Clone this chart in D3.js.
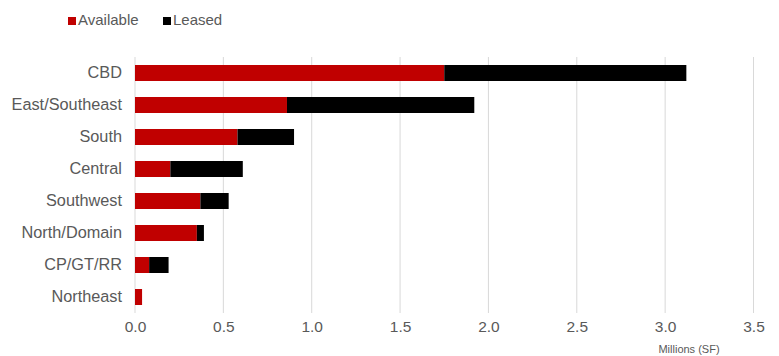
<!DOCTYPE html>
<html>
<head>
<meta charset="utf-8">
<script src="https://cdn.jsdelivr.net/npm/d3@7"></script>
<style>
  body { margin: 0; background: #fff; }
  text { font-family: "Liberation Sans", Arial, sans-serif; fill: #595959; }
</style>
</head>
<body>
<div id="chart"></div>
<script>
var categories = ["CBD", "East/Southeast", "South", "Central", "Southwest", "North/Domain", "CP/GT/RR", "Northeast"];
var available = [1.75, 0.86, 0.58, 0.20, 0.37, 0.35, 0.08, 0.04];
var leased = [1.37, 1.06, 0.32, 0.41, 0.16, 0.04, 0.11, 0.0];
var xTicks = [0, 0.5, 1.0, 1.5, 2.0, 2.5, 3.0, 3.5];
var seriesNames = ["Available", "Leased"];
var colors = ["#c00000", "#000000"];

var width = 779, height = 356;
var margin = { top: 57, right: 26, bottom: 43, left: 135 };

var svg = d3.select("#chart").append("svg")
    .attr("width", width)
    .attr("height", height);

var x = d3.scaleLinear()
    .domain([0, 3.5])
    .range([margin.left, width - margin.right + 0.5]);

var y = d3.scaleBand()
    .domain(categories)
    .range([margin.top, height - margin.bottom])
    .paddingInner(0.5)
    .paddingOuter(0.25);

// gridlines
svg.append("g")
    .selectAll("line")
    .data(xTicks)
    .enter()
    .append("line")
    .attr("x1", function (d) { return x(d) })
    .attr("x2", function (d) { return x(d) })
    .attr("y1", margin.top)
    .attr("y2", height - margin.bottom)
    .attr("stroke", "#d9d9d9")
    .attr("stroke-width", 1);

// stacked bars
var rows = categories.map(function (c, i) {
    return { cat: c, Available: available[i], Leased: leased[i] };
});
var stacked = d3.stack().keys(seriesNames)(rows);

svg.append("g")
    .selectAll("g")
    .data(stacked)
    .enter()
    .append("g")
    .attr("fill", function (d, i) { return colors[i] })
    .selectAll("rect")
    .data(function (d) { return d })
    .enter()
    .append("rect")
    .attr("x", function (d) { return x(d[0]) })
    .attr("y", function (d) { return y(d.data.cat) })
    .attr("width", function (d) { return x(d[1]) - x(d[0]) })
    .attr("height", y.bandwidth());

// category labels
var yAxis = svg.append("g")
    .attr("transform", "translate(" + margin.left + ",0)")
    .call(d3.axisLeft(y).tickSize(0).tickPadding(13));
yAxis.select(".domain").remove();
yAxis.selectAll("text")
    .attr("fill", "#595959")
    .style("font-size", "16.3px")
    .style("font-family", "'Liberation Sans', Arial, sans-serif");

// x tick labels
var xAxis = svg.append("g")
    .attr("transform", "translate(0," + (height - margin.bottom) + ")")
    .call(d3.axisBottom(x).tickValues(xTicks).tickFormat(d3.format(".1f")).tickSize(0).tickPadding(8));
xAxis.select(".domain").remove();
xAxis.selectAll("text")
    .attr("fill", "#595959")
    .style("font-size", "15.5px")
    .style("font-family", "'Liberation Sans', Arial, sans-serif");

svg.append("text")
    .attr("x", 689)
    .attr("y", 353)
    .attr("text-anchor", "middle")
    .style("font-size", "11px")
    .text("Millions (SF)");

// legend
var legendX = [68, 163];
var legend = svg.append("g")
    .selectAll("g")
    .data(seriesNames)
    .enter()
    .append("g")
    .attr("transform", function (d, i) { return "translate(" + legendX[i] + ",0)" });
legend.append("rect")
    .attr("x", 0)
    .attr("y", 17)
    .attr("width", 8)
    .attr("height", 8)
    .attr("fill", function (d, i) { return colors[i] });
legend.append("text")
    .attr("x", 10)
    .attr("y", 25)
    .style("font-size", "15px")
    .text(function (d) { return d });
</script>
</body>
</html>
